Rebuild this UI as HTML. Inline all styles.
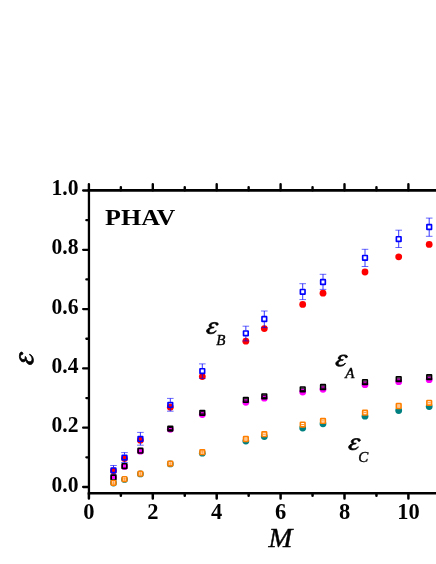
<!DOCTYPE html>
<html><head><meta charset="utf-8"><title>PHAV</title>
<style>html,body{margin:0;padding:0;background:#fff;}svg{display:block;}text{font-family:"Liberation Serif",serif;fill:#000;}</style></head><body>
<svg width="436" height="564" viewBox="0 0 436 564">
<rect x="0" y="0" width="436" height="564" fill="#ffffff"/>
<g id="data">
<circle cx="113.50" cy="470.80" r="3.4" fill="#ff0000"/>
<circle cx="124.50" cy="458.60" r="3.4" fill="#ff0000"/>
<circle cx="140.40" cy="440.20" r="3.4" fill="#ff0000"/>
<circle cx="170.30" cy="407.20" r="3.4" fill="#ff0000"/>
<circle cx="202.30" cy="376.60" r="3.4" fill="#ff0000"/>
<circle cx="245.85" cy="341.20" r="3.4" fill="#ff0000"/>
<circle cx="264.30" cy="328.60" r="3.4" fill="#ff0000"/>
<circle cx="302.70" cy="304.40" r="3.4" fill="#ff0000"/>
<circle cx="323.00" cy="293.20" r="3.4" fill="#ff0000"/>
<circle cx="365.00" cy="272.00" r="3.4" fill="#ff0000"/>
<circle cx="398.70" cy="256.80" r="3.4" fill="#ff0000"/>
<circle cx="429.20" cy="244.40" r="3.4" fill="#ff0000"/>
<path d="M113.50 465.50V467.35M113.50 473.25V475.00" stroke="#0000ff" stroke-width="0.8" fill="none"/>
<path d="M110.20 465.50h6.6M110.20 475.00h6.6" stroke="#0000ff" stroke-width="0.6" fill="none"/>
<rect x="111.17" y="467.98" width="4.65" height="4.65" rx="0.2" fill="none" stroke="#0000ff" stroke-width="1.65"/>
<path d="M124.50 452.60V454.65M124.50 460.55V462.50" stroke="#0000ff" stroke-width="0.8" fill="none"/>
<path d="M121.20 452.60h6.6M121.20 462.50h6.6" stroke="#0000ff" stroke-width="0.6" fill="none"/>
<rect x="122.17" y="455.28" width="4.65" height="4.65" rx="0.2" fill="none" stroke="#0000ff" stroke-width="1.65"/>
<path d="M140.40 432.40V435.95M140.40 441.85V445.20" stroke="#0000ff" stroke-width="0.8" fill="none"/>
<path d="M137.10 432.40h6.6M137.10 445.20h6.6" stroke="#0000ff" stroke-width="0.6" fill="none"/>
<rect x="138.08" y="436.57" width="4.65" height="4.65" rx="0.2" fill="none" stroke="#0000ff" stroke-width="1.65"/>
<path d="M170.30 398.40V401.95M170.30 407.85V411.20" stroke="#0000ff" stroke-width="0.8" fill="none"/>
<path d="M167.00 398.40h6.6M167.00 411.20h6.6" stroke="#0000ff" stroke-width="0.6" fill="none"/>
<rect x="167.98" y="402.57" width="4.65" height="4.65" rx="0.2" fill="none" stroke="#0000ff" stroke-width="1.65"/>
<path d="M202.30 363.90V368.15M202.30 374.05V378.40" stroke="#0000ff" stroke-width="0.8" fill="none"/>
<path d="M199.00 363.90h6.6M199.00 378.40h6.6" stroke="#0000ff" stroke-width="0.6" fill="none"/>
<rect x="199.98" y="368.78" width="4.65" height="4.65" rx="0.2" fill="none" stroke="#0000ff" stroke-width="1.65"/>
<path d="M245.85 326.20V330.35M245.85 336.25V340.90" stroke="#0000ff" stroke-width="0.8" fill="none"/>
<path d="M242.55 326.20h6.6M242.55 340.90h6.6" stroke="#0000ff" stroke-width="0.6" fill="none"/>
<rect x="243.53" y="330.98" width="4.65" height="4.65" rx="0.2" fill="none" stroke="#0000ff" stroke-width="1.65"/>
<path d="M264.30 311.00V316.05M264.30 321.95V327.60" stroke="#0000ff" stroke-width="0.8" fill="none"/>
<path d="M261.00 311.00h6.6M261.00 327.60h6.6" stroke="#0000ff" stroke-width="0.6" fill="none"/>
<rect x="261.98" y="316.68" width="4.65" height="4.65" rx="0.2" fill="none" stroke="#0000ff" stroke-width="1.65"/>
<path d="M302.70 283.70V288.85M302.70 294.75V299.60" stroke="#0000ff" stroke-width="0.8" fill="none"/>
<path d="M299.40 283.70h6.6M299.40 299.60h6.6" stroke="#0000ff" stroke-width="0.6" fill="none"/>
<rect x="300.38" y="289.48" width="4.65" height="4.65" rx="0.2" fill="none" stroke="#0000ff" stroke-width="1.65"/>
<path d="M323.00 274.30V279.05M323.00 284.95V289.40" stroke="#0000ff" stroke-width="0.8" fill="none"/>
<path d="M319.70 274.30h6.6M319.70 289.40h6.6" stroke="#0000ff" stroke-width="0.6" fill="none"/>
<rect x="320.68" y="279.68" width="4.65" height="4.65" rx="0.2" fill="none" stroke="#0000ff" stroke-width="1.65"/>
<path d="M365.00 249.30V254.85M365.00 260.75V266.50" stroke="#0000ff" stroke-width="0.8" fill="none"/>
<path d="M361.70 249.30h6.6M361.70 266.50h6.6" stroke="#0000ff" stroke-width="0.6" fill="none"/>
<rect x="362.68" y="255.48" width="4.65" height="4.65" rx="0.2" fill="none" stroke="#0000ff" stroke-width="1.65"/>
<path d="M398.70 230.20V236.15M398.70 242.05V247.50" stroke="#0000ff" stroke-width="0.8" fill="none"/>
<path d="M395.40 230.20h6.6M395.40 247.50h6.6" stroke="#0000ff" stroke-width="0.6" fill="none"/>
<rect x="396.38" y="236.78" width="4.65" height="4.65" rx="0.2" fill="none" stroke="#0000ff" stroke-width="1.65"/>
<path d="M429.20 218.10V224.05M429.20 229.95V236.30" stroke="#0000ff" stroke-width="0.8" fill="none"/>
<path d="M425.90 218.10h6.6M425.90 236.30h6.6" stroke="#0000ff" stroke-width="0.6" fill="none"/>
<rect x="426.88" y="224.68" width="4.65" height="4.65" rx="0.2" fill="none" stroke="#0000ff" stroke-width="1.65"/>
<circle cx="113.50" cy="477.60" r="3.4" fill="#ff00ff"/>
<circle cx="124.50" cy="466.50" r="3.4" fill="#ff00ff"/>
<circle cx="140.40" cy="451.20" r="3.4" fill="#ff00ff"/>
<circle cx="170.30" cy="429.30" r="3.4" fill="#ff00ff"/>
<circle cx="202.30" cy="414.60" r="3.4" fill="#ff00ff"/>
<circle cx="245.85" cy="402.30" r="3.4" fill="#ff00ff"/>
<circle cx="264.30" cy="398.20" r="3.4" fill="#ff00ff"/>
<circle cx="302.70" cy="392.00" r="3.4" fill="#ff00ff"/>
<circle cx="323.00" cy="389.30" r="3.4" fill="#ff00ff"/>
<circle cx="365.00" cy="384.70" r="3.4" fill="#ff00ff"/>
<circle cx="398.70" cy="381.70" r="3.4" fill="#ff00ff"/>
<circle cx="429.20" cy="379.70" r="3.4" fill="#ff00ff"/>
<rect x="111.17" y="475.18" width="4.65" height="4.65" rx="0.2" fill="none" stroke="#000000" stroke-width="1.65"/>
<rect x="122.17" y="463.78" width="4.65" height="4.65" rx="0.2" fill="none" stroke="#000000" stroke-width="1.65"/>
<rect x="138.08" y="448.38" width="4.65" height="4.65" rx="0.2" fill="none" stroke="#000000" stroke-width="1.65"/>
<rect x="167.98" y="426.28" width="4.65" height="4.65" rx="0.2" fill="none" stroke="#000000" stroke-width="1.65"/>
<path d="M168.70 427.50h3.2M168.70 429.70h3.2" stroke="#000" stroke-width="1.0" fill="none"/>
<rect x="199.98" y="410.48" width="4.65" height="4.65" rx="0.2" fill="none" stroke="#000000" stroke-width="1.65"/>
<path d="M200.70 411.70h3.2M200.70 413.90h3.2" stroke="#000" stroke-width="1.0" fill="none"/>
<rect x="243.53" y="397.57" width="4.65" height="4.65" rx="0.2" fill="none" stroke="#000000" stroke-width="1.65"/>
<path d="M244.25 398.80h3.2M244.25 401.00h3.2" stroke="#000" stroke-width="1.0" fill="none"/>
<rect x="261.98" y="393.98" width="4.65" height="4.65" rx="0.2" fill="none" stroke="#000000" stroke-width="1.65"/>
<path d="M262.70 395.20h3.2M262.70 397.40h3.2" stroke="#000" stroke-width="1.0" fill="none"/>
<rect x="300.38" y="386.98" width="4.65" height="4.65" rx="0.2" fill="none" stroke="#000000" stroke-width="1.65"/>
<path d="M301.10 388.20h3.2M301.10 390.40h3.2" stroke="#000" stroke-width="1.0" fill="none"/>
<rect x="320.68" y="384.68" width="4.65" height="4.65" rx="0.2" fill="none" stroke="#000000" stroke-width="1.65"/>
<path d="M321.40 385.90h3.2M321.40 388.10h3.2" stroke="#000" stroke-width="1.0" fill="none"/>
<rect x="362.68" y="379.78" width="4.65" height="4.65" rx="0.2" fill="none" stroke="#000000" stroke-width="1.65"/>
<path d="M363.40 381.00h3.2M363.40 383.20h3.2" stroke="#000" stroke-width="1.0" fill="none"/>
<rect x="396.38" y="376.78" width="4.65" height="4.65" rx="0.2" fill="none" stroke="#000000" stroke-width="1.65"/>
<path d="M397.10 378.00h3.2M397.10 380.20h3.2" stroke="#000" stroke-width="1.0" fill="none"/>
<rect x="426.88" y="374.88" width="4.65" height="4.65" rx="0.2" fill="none" stroke="#000000" stroke-width="1.65"/>
<path d="M427.60 376.10h3.2M427.60 378.30h3.2" stroke="#000" stroke-width="1.0" fill="none"/>
<circle cx="113.50" cy="483.00" r="3.4" fill="#008080"/>
<circle cx="124.50" cy="479.40" r="3.4" fill="#008080"/>
<circle cx="140.40" cy="473.90" r="3.4" fill="#008080"/>
<circle cx="170.30" cy="463.90" r="3.4" fill="#008080"/>
<circle cx="202.30" cy="453.20" r="3.4" fill="#008080"/>
<circle cx="245.85" cy="441.10" r="3.4" fill="#008080"/>
<circle cx="264.30" cy="436.50" r="3.4" fill="#008080"/>
<circle cx="302.70" cy="428.00" r="3.4" fill="#008080"/>
<circle cx="323.00" cy="423.80" r="3.4" fill="#008080"/>
<circle cx="365.00" cy="416.20" r="3.4" fill="#008080"/>
<circle cx="398.70" cy="410.50" r="3.4" fill="#008080"/>
<circle cx="429.20" cy="406.50" r="3.4" fill="#008080"/>
<rect x="111.17" y="480.48" width="4.65" height="4.65" rx="0.9" fill="#fff" stroke="#ff8000" stroke-width="1.65"/>
<path d="M112.00 482.20h3M112.00 483.40h3M113.50 481.30v3" stroke="#ff8000" stroke-width="0.55" fill="none"/>
<rect x="122.17" y="476.78" width="4.65" height="4.65" rx="0.9" fill="#fff" stroke="#ff8000" stroke-width="1.65"/>
<path d="M123.00 478.50h3M123.00 479.70h3M124.50 477.60v3" stroke="#ff8000" stroke-width="0.55" fill="none"/>
<rect x="138.08" y="471.38" width="4.65" height="4.65" rx="0.9" fill="#fff" stroke="#ff8000" stroke-width="1.65"/>
<path d="M138.90 473.10h3M138.90 474.30h3M140.40 472.20v3" stroke="#ff8000" stroke-width="0.55" fill="none"/>
<rect x="167.98" y="461.28" width="4.65" height="4.65" rx="0.5" fill="#fff" stroke="#ff8000" stroke-width="1.65"/>
<path d="M168.80 463.00h3M168.80 464.20h3M170.30 462.10v3" stroke="#ff8000" stroke-width="0.55" fill="none"/>
<rect x="199.98" y="449.88" width="4.65" height="4.65" rx="0.5" fill="#fff" stroke="#ff8000" stroke-width="1.65"/>
<path d="M200.80 451.60h3M200.80 452.80h3M202.30 450.70v3" stroke="#ff8000" stroke-width="0.55" fill="none"/>
<rect x="243.53" y="436.68" width="4.65" height="4.65" rx="0.5" fill="#fff" stroke="#ff8000" stroke-width="1.65"/>
<path d="M244.35 439.00h3" stroke="#ff8000" stroke-width="0.9" fill="none"/>
<rect x="261.98" y="431.88" width="4.65" height="4.65" rx="0.5" fill="#fff" stroke="#ff8000" stroke-width="1.65"/>
<path d="M262.80 434.20h3" stroke="#ff8000" stroke-width="0.9" fill="none"/>
<rect x="300.38" y="422.28" width="4.65" height="4.65" rx="0.5" fill="#fff" stroke="#ff8000" stroke-width="1.65"/>
<path d="M301.20 424.60h3" stroke="#ff8000" stroke-width="0.9" fill="none"/>
<rect x="320.68" y="418.57" width="4.65" height="4.65" rx="0.5" fill="#fff" stroke="#ff8000" stroke-width="1.65"/>
<path d="M321.50 420.90h3" stroke="#ff8000" stroke-width="0.9" fill="none"/>
<rect x="362.68" y="410.38" width="4.65" height="4.65" rx="0.5" fill="#fff" stroke="#ff8000" stroke-width="1.65"/>
<path d="M363.50 412.70h3" stroke="#ff8000" stroke-width="0.9" fill="none"/>
<rect x="396.38" y="403.68" width="4.65" height="4.65" rx="0.5" fill="#fff" stroke="#ff8000" stroke-width="1.65"/>
<path d="M397.20 406.00h3" stroke="#ff8000" stroke-width="0.9" fill="none"/>
<rect x="426.88" y="400.48" width="4.65" height="4.65" rx="0.5" fill="#fff" stroke="#ff8000" stroke-width="1.65"/>
<path d="M427.70 402.80h3" stroke="#ff8000" stroke-width="0.9" fill="none"/>
</g>
<g id="axes" stroke="#000" stroke-width="2.25" fill="none" stroke-linecap="butt">
<path d="M88.95 189.0V494.6" stroke-width="2.3"/>
<path d="M87.85000000000001 190.3H436" stroke-width="2.65"/>
<path d="M87.85000000000001 493.25H436" stroke-width="2.65"/>
<path d="M88.95 487.00h-5.8M88.95 457.35h-2.6M88.95 427.70h-5.8M88.95 398.05h-2.6M88.95 368.40h-5.8M88.95 338.75h-2.6M88.95 309.10h-5.8M88.95 279.45h-2.6M88.95 249.80h-5.8M88.95 220.15h-2.6M88.95 190.50h-5.8" stroke-width="2.3" stroke-linecap="round"/>
<path d="M88.90 190.3v-6.0M120.85 190.3v-3.2M152.80 190.3v-6.0M184.75 190.3v-3.2M216.70 190.3v-6.0M248.65 190.3v-3.2M280.60 190.3v-6.0M312.55 190.3v-3.2M344.50 190.3v-6.0M376.45 190.3v-3.2M408.40 190.3v-6.0" stroke-width="2.4" stroke-linecap="round"/>
<path d="M88.90 493.25v5.3M120.85 493.25v2.6M152.80 493.25v5.3M184.75 493.25v2.6M216.70 493.25v5.3M248.65 493.25v2.6M280.60 493.25v5.3M312.55 493.25v2.6M344.50 493.25v5.3M376.45 493.25v2.6M408.40 493.25v5.3" stroke-width="2.5" stroke-linecap="round"/>
</g>
<g opacity="0.999">
<g font-weight="bold" font-size="22.5px">
<text x="78.5" y="491.50" text-anchor="end" textLength="27" lengthAdjust="spacingAndGlyphs">0.0</text>
<text x="78.5" y="432.20" text-anchor="end" textLength="27" lengthAdjust="spacingAndGlyphs">0.2</text>
<text x="78.5" y="372.90" text-anchor="end" textLength="27" lengthAdjust="spacingAndGlyphs">0.4</text>
<text x="78.5" y="313.60" text-anchor="end" textLength="27" lengthAdjust="spacingAndGlyphs">0.6</text>
<text x="78.5" y="254.30" text-anchor="end" textLength="27" lengthAdjust="spacingAndGlyphs">0.8</text>
<text x="78.5" y="195.00" text-anchor="end" textLength="27" lengthAdjust="spacingAndGlyphs">1.0</text>
<text x="88.90" y="518.8" text-anchor="middle">0</text>
<text x="152.80" y="518.8" text-anchor="middle">2</text>
<text x="216.70" y="518.8" text-anchor="middle">4</text>
<text x="280.60" y="518.8" text-anchor="middle">6</text>
<text x="344.50" y="518.8" text-anchor="middle">8</text>
<text x="408.40" y="518.8" text-anchor="middle">10</text>
</g>
<text x="105.0" y="225.1" font-weight="bold" font-size="23px" textLength="70.4" lengthAdjust="spacingAndGlyphs">PHAV</text>
<text x="268.6" y="546.5" font-style="italic" font-size="27.6px" stroke="#000" stroke-width="0.45" textLength="23.8" lengthAdjust="spacingAndGlyphs">M</text>
<g transform="translate(18.9,365) rotate(-90)"><path transform="translate(0.45,0.5) scale(0.98,1.14)" d="M12.0 0.7 C11.2 0.1 9.6 -0.05 8.2 0 C5.2 0.1 2.75 1.5 2.75 3.3 C2.75 4.5 3.6 5.2 4.6 5.5 C1.9 6.1 0 7.6 0 9.5 C0 11.2 1.8 12.25 4.4 12.25 C7.4 12.25 9.6 11 10.5 9.0 L10.0 8.8 C9.0 10.3 7.3 11.1 5.6 11.1 C3.8 11.1 2.8 10.4 2.8 9.2 C2.8 7.6 4.4 6.2 6.4 6.1 C7.2 6.05 7.8 5.9 8.3 5.15 C7.4 5.05 6.6 5.0 6.0 4.9 C5.3 4.6 5.1 4.0 5.1 3.4 C5.1 2.0 6.6 0.9 8.3 0.9 C9.0 0.9 9.6 1.1 10.0 1.5 C9.8 2.3 10.3 3.1 11.2 3.1 C12.1 3.1 12.7 2.4 12.7 1.7 C12.7 1.3 12.4 0.95 12.0 0.7 Z" fill="#000" stroke="#000" stroke-width="0.85" stroke-linejoin="round"/></g>
<path transform="translate(206.50,322.40) scale(0.93)" d="M12.0 0.7 C11.2 0.1 9.6 -0.05 8.2 0 C5.2 0.1 2.75 1.5 2.75 3.3 C2.75 4.5 3.6 5.2 4.6 5.5 C1.9 6.1 0 7.6 0 9.5 C0 11.2 1.8 12.25 4.4 12.25 C7.4 12.25 9.6 11 10.5 9.0 L10.0 8.8 C9.0 10.3 7.3 11.1 5.6 11.1 C3.8 11.1 2.8 10.4 2.8 9.2 C2.8 7.6 4.4 6.2 6.4 6.1 C7.2 6.05 7.8 5.9 8.3 5.15 C7.4 5.05 6.6 5.0 6.0 4.9 C5.3 4.6 5.1 4.0 5.1 3.4 C5.1 2.0 6.6 0.9 8.3 0.9 C9.0 0.9 9.6 1.1 10.0 1.5 C9.8 2.3 10.3 3.1 11.2 3.1 C12.1 3.1 12.7 2.4 12.7 1.7 C12.7 1.3 12.4 0.95 12.0 0.7 Z" fill="#000" stroke="#000" stroke-width="0.85" stroke-linejoin="round"/>
<text x="216.2" y="345.1" font-style="italic" font-size="15px" stroke="#000" stroke-width="0.4">B</text>
<path transform="translate(335.70,354.90) scale(0.93)" d="M12.0 0.7 C11.2 0.1 9.6 -0.05 8.2 0 C5.2 0.1 2.75 1.5 2.75 3.3 C2.75 4.5 3.6 5.2 4.6 5.5 C1.9 6.1 0 7.6 0 9.5 C0 11.2 1.8 12.25 4.4 12.25 C7.4 12.25 9.6 11 10.5 9.0 L10.0 8.8 C9.0 10.3 7.3 11.1 5.6 11.1 C3.8 11.1 2.8 10.4 2.8 9.2 C2.8 7.6 4.4 6.2 6.4 6.1 C7.2 6.05 7.8 5.9 8.3 5.15 C7.4 5.05 6.6 5.0 6.0 4.9 C5.3 4.6 5.1 4.0 5.1 3.4 C5.1 2.0 6.6 0.9 8.3 0.9 C9.0 0.9 9.6 1.1 10.0 1.5 C9.8 2.3 10.3 3.1 11.2 3.1 C12.1 3.1 12.7 2.4 12.7 1.7 C12.7 1.3 12.4 0.95 12.0 0.7 Z" fill="#000" stroke="#000" stroke-width="0.85" stroke-linejoin="round"/>
<text x="345.3" y="377.8" font-style="italic" font-size="15px" stroke="#000" stroke-width="0.4">A</text>
<path transform="translate(348.60,438.50) scale(0.93)" d="M12.0 0.7 C11.2 0.1 9.6 -0.05 8.2 0 C5.2 0.1 2.75 1.5 2.75 3.3 C2.75 4.5 3.6 5.2 4.6 5.5 C1.9 6.1 0 7.6 0 9.5 C0 11.2 1.8 12.25 4.4 12.25 C7.4 12.25 9.6 11 10.5 9.0 L10.0 8.8 C9.0 10.3 7.3 11.1 5.6 11.1 C3.8 11.1 2.8 10.4 2.8 9.2 C2.8 7.6 4.4 6.2 6.4 6.1 C7.2 6.05 7.8 5.9 8.3 5.15 C7.4 5.05 6.6 5.0 6.0 4.9 C5.3 4.6 5.1 4.0 5.1 3.4 C5.1 2.0 6.6 0.9 8.3 0.9 C9.0 0.9 9.6 1.1 10.0 1.5 C9.8 2.3 10.3 3.1 11.2 3.1 C12.1 3.1 12.7 2.4 12.7 1.7 C12.7 1.3 12.4 0.95 12.0 0.7 Z" fill="#000" stroke="#000" stroke-width="0.85" stroke-linejoin="round"/>
<text x="358.2" y="461.8" font-style="italic" font-size="15px" stroke="#000" stroke-width="0.4">C</text>
</g>
</svg></body></html>
